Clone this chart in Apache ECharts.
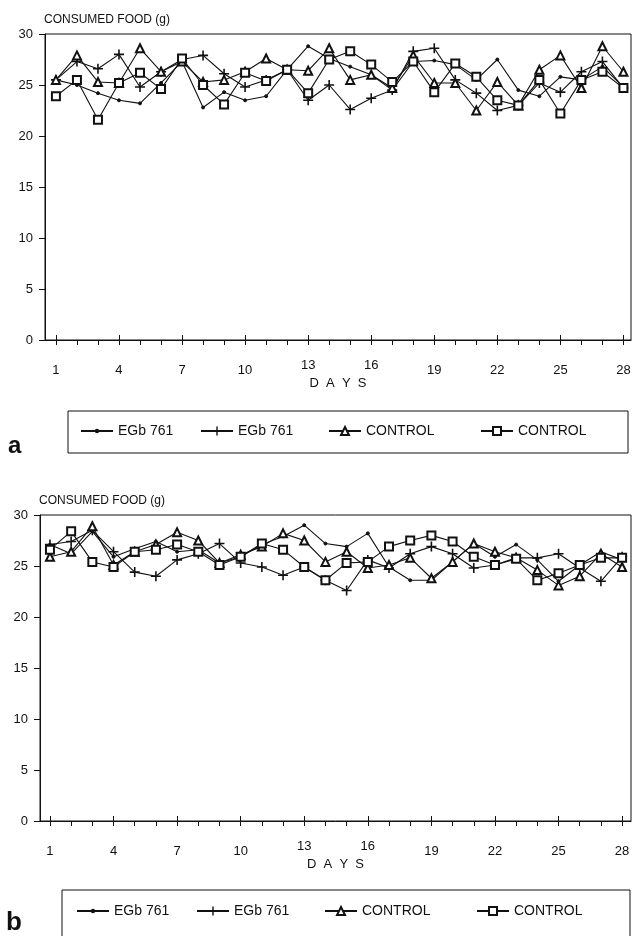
<!DOCTYPE html>
<html>
<head>
<meta charset="utf-8">
<title>Consumed food</title>
<script src="https://cdn.jsdelivr.net/npm/echarts@6/dist/echarts.min.js"></script>
<style>
    html, body { margin: 0; padding: 0; background: #fff; }
    #main { width: 636px; height: 936px; }
</style>
</head>
<body>
<div id="main"></div>
<script>
// axes
const days = [1, 2, 3, 4, 5, 6, 7, 8, 9, 10, 11, 12, 13, 14, 15, 16, 17, 18, 19, 20, 21, 22, 23, 24, 25, 26, 27, 28];
const dayLabels = [1, 4, 7, 10, 19, 22, 25, 28];
const dayLabelsRaised = [13, 16];
const dayMajor = [1, 4, 7, 10, 13, 16, 19, 22, 25, 28];
const seriesLabels = ['EGb 761', 'EGb 761', 'CONTROL', 'CONTROL'];

// panel a
const egbDotA  = [25.5, 25.0, 24.2, 23.5, 23.2, 25.2, 27.3, 22.8, 24.3, 23.5, 23.9, 26.5, 28.8, 27.6, 26.8, 26.0, 24.5, 27.3, 27.4, 27.0, 25.5, 27.5, 24.5, 23.9, 25.8, 25.5, 26.8, 24.8];
const egbPlusA = [25.5, 27.3, 26.6, 28.0, 24.8, 26.3, 27.5, 27.9, 26.1, 24.8, 25.5, 26.5, 23.5, 25.0, 22.6, 23.7, 24.5, 28.3, 28.6, 25.5, 24.2, 22.5, 23.0, 25.2, 24.3, 26.3, 27.3, 24.7];
const ctrlTriA = [25.5, 27.9, 25.3, 25.2, 28.6, 26.3, 27.3, 25.3, 25.5, 26.3, 27.6, 26.5, 26.4, 28.6, 25.5, 26.0, 24.7, 27.9, 25.2, 25.2, 22.5, 25.3, 23.0, 26.5, 27.9, 24.7, 28.8, 26.3];
const ctrlSqA  = [23.9, 25.5, 21.6, 25.2, 26.2, 24.6, 27.6, 25.0, 23.1, 26.2, 25.4, 26.5, 24.2, 27.5, 28.3, 27.0, 25.3, 27.3, 24.3, 27.1, 25.8, 23.5, 23.0, 25.5, 22.2, 25.5, 26.3, 24.7];

// panel b
const egbDotB  = [27.1, 26.2, 28.4, 25.9, 26.7, 27.4, 26.4, 26.6, 25.3, 25.9, 27.1, 27.9, 29.0, 27.2, 26.9, 28.2, 24.9, 23.6, 23.6, 25.4, 27.2, 25.9, 27.1, 25.6, 23.5, 25.1, 26.4, 25.6];
const egbPlusB = [27.1, 27.4, 28.5, 26.4, 24.4, 24.0, 25.6, 26.2, 27.2, 25.3, 24.9, 24.1, 24.9, 23.6, 22.6, 25.6, 24.8, 26.2, 26.9, 26.2, 24.8, 25.1, 25.8, 25.8, 26.2, 24.8, 23.5, 25.9];
const ctrlTriB = [25.9, 26.4, 28.9, 25.1, 26.4, 27.1, 28.3, 27.5, 25.3, 26.1, 26.9, 28.2, 27.5, 25.4, 26.4, 24.8, 25.1, 25.8, 23.8, 25.4, 27.2, 26.4, 25.8, 24.6, 23.1, 24.0, 26.2, 24.9];
const ctrlSqB  = [26.6, 28.4, 25.4, 24.9, 26.4, 26.6, 27.1, 26.4, 25.1, 25.9, 27.2, 26.6, 24.9, 23.6, 25.3, 25.4, 26.9, 27.5, 28.0, 27.4, 25.9, 25.1, 25.7, 23.6, 24.3, 25.1, 25.8, 25.8];

const ink = '#111';
const font = 'Liberation Sans, Arial, sans-serif';
// plus sign
const plusPath = 'path://M4.2,0H5.8V4.2H10V5.8H5.8V10H4.2V5.8H0V4.2H4.2Z';
const symbols = [
    { symbol: 'circle', size: 3, border: 1, legendH: 3 },
    { symbol: plusPath, size: 10, border: 0, legendH: 11 },
    { symbol: 'emptyTriangle', size: 8, border: 1.1, legendH: 10 },
    { symbol: 'emptyRect', size: 8, border: 1.1, legendH: 10 }
];
// legend item left edges (px)
const legendLeft = [80, 200, 328, 480];

// panel layout: grid box and x range (days run a little inside the frame)
const panels = [
    { key: 'a', top: 34, left: 45, width: 586, height: 306, xMin: 0.48, xMax: 28.36, legendTop: 432, data: [egbDotA, egbPlusA, ctrlTriA, ctrlSqA] },
    { key: 'b', top: 515, left: 40, width: 591, height: 306, xMin: 0.53, xMax: 28.42, legendTop: 912, data: [egbDotB, egbPlusB, ctrlTriB, ctrlSqB] }
];

const grid = [], xAxis = [], yAxis = [], series = [], legend = [], title = [];
const legendText = {};

panels.forEach(function(p, gi) {
    grid.push({
        left: p.left, top: p.top, width: p.width, height: p.height,
        show: true, borderColor: ink, borderWidth: 1, backgroundColor: 'transparent'
    });
    // main x axis: one small tick per day, labels every 3 days
    xAxis.push({
        type: 'value', gridIndex: gi, min: p.xMin, max: p.xMax,
        axisLine: { lineStyle: { color: ink, width: 1 } },
        axisTick: { customValues: days, length: 5, lineStyle: { color: ink } },
        axisLabel: { customValues: dayLabels, margin: 24, color: ink, fontSize: 13, fontFamily: font },
        splitLine: { show: false }
    });
    // overlay axis: upward half of the labelled ticks, the two raised labels and the axis name
    xAxis.push({
        type: 'value', gridIndex: gi, min: p.xMin, max: p.xMax, position: 'bottom',
        name: 'D  A  Y  S', nameLocation: 'middle', nameGap: 37,
        nameTextStyle: { color: ink, fontSize: 13, fontFamily: font },
        axisLine: { show: false },
        axisTick: { customValues: dayMajor, inside: true, length: 5, lineStyle: { color: ink } },
        axisLabel: { customValues: dayLabelsRaised, margin: 19, color: ink, fontSize: 13, fontFamily: font },
        splitLine: { show: false }
    });
    yAxis.push({
        type: 'value', gridIndex: gi, min: 0, max: 30, interval: 5,
        axisLine: { show: true, lineStyle: { color: ink, width: 1 } },
        axisTick: { show: true, length: 6, lineStyle: { color: ink } },
        axisLabel: { margin: 12, color: ink, fontSize: 13, fontFamily: font },
        splitLine: { show: false }
    });
    title.push({
        text: 'CONSUMED FOOD (g)', left: p.left - 1, top: p.top - 20, padding: 0,
        textStyle: { color: ink, fontSize: 12, fontWeight: 'normal', fontFamily: font }
    });

    p.data.forEach(function(values, si) {
        const name = p.key + si;
        legendText[name] = seriesLabels[si];
        series.push({
            name: name, type: 'line', xAxisIndex: gi * 2, yAxisIndex: gi,
            data: days.map(function(d, i) { return [d, values[i]]; }),
            symbol: symbols[si].symbol, symbolSize: symbols[si].size,
            showAllSymbol: true, animation: false,
            lineStyle: { color: ink, width: 1.1 },
            itemStyle: { color: ink, borderColor: ink, borderWidth: symbols[si].border },
            z: 2 + si
        });
        // one legend per entry so each icon keeps its own marker size
        legend.push({
            data: [name], left: legendLeft[si] - (gi ? 4 : 0), top: p.legendTop - 8,
            itemWidth: 32, itemHeight: symbols[si].legendH, padding: 0, selectedMode: false,
            formatter: function(n) { return legendText[n]; },
            textStyle: { color: ink, fontSize: 14, fontFamily: font }
        });
    });
});

const myChart = echarts.init(document.getElementById('main'));
myChart.setOption({
    backgroundColor: '#fff',
    animation: false,
    title: title,
    grid: grid,
    xAxis: xAxis,
    yAxis: yAxis,
    legend: legend,
    series: series,
    graphic: [
        { type: 'rect', shape: { x: 68, y: 411, width: 560, height: 42 }, style: { fill: 'none', stroke: ink, lineWidth: 1 } },
        { type: 'text', x: 8, y: 434, style: { text: 'a', fontSize: 24, fontWeight: 'bold', fill: ink, fontFamily: font } },
        { type: 'rect', shape: { x: 62, y: 890, width: 568, height: 60 }, style: { fill: 'none', stroke: ink, lineWidth: 1 } },
        { type: 'text', x: 6, y: 910, style: { text: 'b', fontSize: 26, fontWeight: 'bold', fill: ink, fontFamily: font } }
    ]
});
</script>
</body>
</html>
